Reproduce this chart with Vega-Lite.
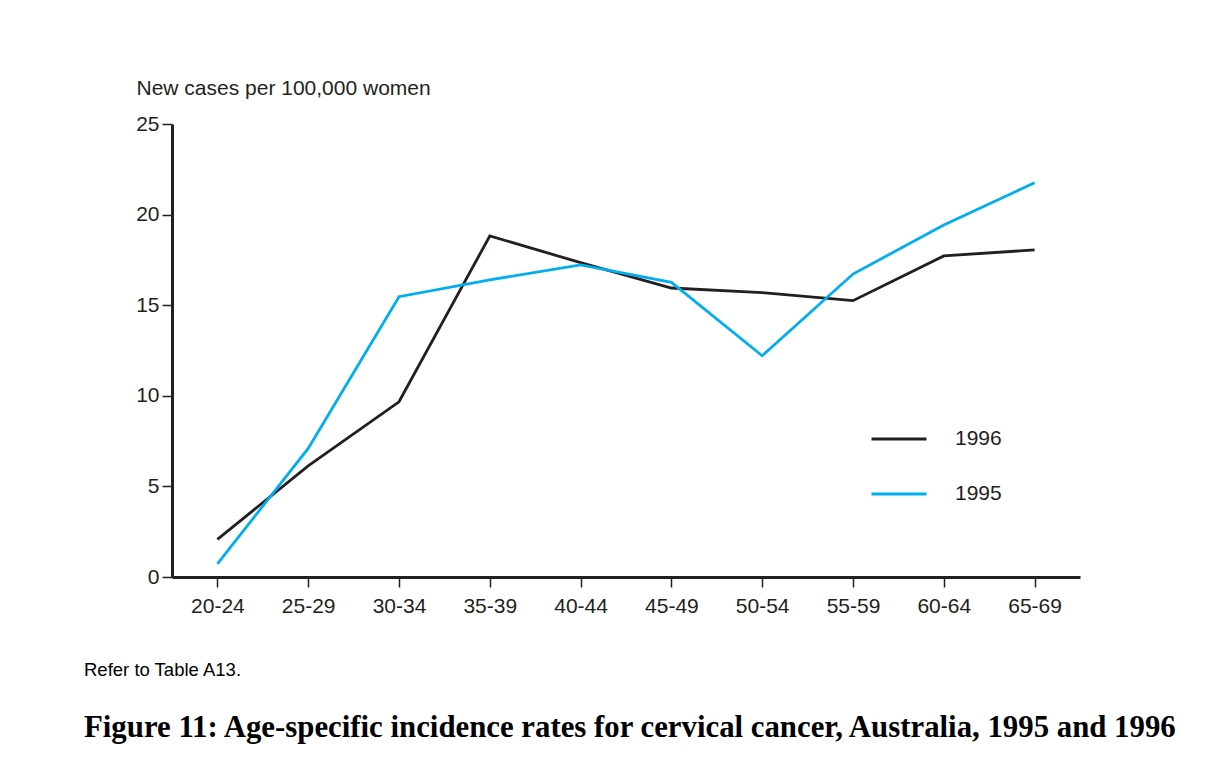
{
  "$schema": "https://vega.github.io/schema/vega-lite/v6.json",
  "width": 908,
  "height": 453,
  "autosize": {"type": "none"},
  "padding": {"left": 172, "top": 124, "right": 133, "bottom": 203},
  "background": "white",
  "title": {
    "text": "Refer to Table A13.",
    "subtitle": "Figure 11: Age-specific incidence rates for cervical cancer, Australia, 1995 and 1996",
    "orient": "bottom",
    "anchor": "start",
    "frame": "group",
    "dx": -88,
    "offset": 45,
    "font": "Liberation Sans",
    "fontSize": 18.5,
    "fontWeight": "normal",
    "color": "#000000",
    "subtitleFont": "Liberation Serif",
    "subtitleFontSize": 30.8,
    "subtitleFontWeight": "bold",
    "subtitleColor": "#000000",
    "subtitlePadding": 33
  },
  "data": {
    "values": [
      {"age": "20-24", "year": "1996", "rate": 2.08},
      {"age": "25-29", "year": "1996", "rate": 6.13},
      {"age": "30-34", "year": "1996", "rate": 9.67},
      {"age": "35-39", "year": "1996", "rate": 18.82},
      {"age": "40-44", "year": "1996", "rate": 17.35},
      {"age": "45-49", "year": "1996", "rate": 15.95},
      {"age": "50-54", "year": "1996", "rate": 15.69},
      {"age": "55-59", "year": "1996", "rate": 15.25},
      {"age": "60-64", "year": "1996", "rate": 17.72},
      {"age": "65-69", "year": "1996", "rate": 18.05},
      {"age": "20-24", "year": "1995", "rate": 0.72},
      {"age": "25-29", "year": "1995", "rate": 7.1},
      {"age": "30-34", "year": "1995", "rate": 15.47},
      {"age": "35-39", "year": "1995", "rate": 16.4},
      {"age": "40-44", "year": "1995", "rate": 17.22},
      {"age": "45-49", "year": "1995", "rate": 16.26},
      {"age": "50-54", "year": "1995", "rate": 12.21},
      {"age": "55-59", "year": "1995", "rate": 16.72},
      {"age": "60-64", "year": "1995", "rate": 19.43},
      {"age": "65-69", "year": "1995", "rate": 21.76}
    ]
  },
  "mark": {"type": "line", "strokeWidth": 2.8},
  "encoding": {
    "x": {
      "field": "age",
      "type": "ordinal",
      "scale": {"type": "point", "padding": 0.5},
      "axis": {
        "title": null,
        "labelAngle": 0,
        "tickSize": 10,
        "labelPadding": 8
      }
    },
    "y": {
      "field": "rate",
      "type": "quantitative",
      "scale": {"domain": [0, 25], "nice": false},
      "axis": {
        "values": [0, 5, 10, 15, 20, 25],
        "grid": false,
        "tickSize": 10,
        "labelPadding": 3,
        "title": "New cases per 100,000 women",
        "titleAngle": 0,
        "titleAlign": "left",
        "titleBaseline": "alphabetic",
        "titleX": -36,
        "titleY": -30
      }
    },
    "color": {
      "field": "year",
      "type": "nominal",
      "scale": {"domain": ["1996", "1995"], "range": ["#231f20", "#00aeef"]},
      "legend": {
        "title": null,
        "orient": "none",
        "legendX": 698,
        "legendY": 286,
        "padding": 0,
        "symbolType": "stroke",
        "symbolSize": 3025,
        "symbolStrokeWidth": 2.8,
        "labelOffset": 27,
        "rowPadding": 16,
        "labelFont": "Liberation Sans",
        "labelFontSize": 21,
        "labelColor": "#231f20"
      }
    }
  },
  "config": {
    "view": {"stroke": null},
    "axis": {
      "domainColor": "#231f20",
      "domainWidth": 3,
      "tickColor": "#231f20",
      "tickWidth": 1.5,
      "labelFont": "Liberation Sans",
      "labelFontSize": 21,
      "labelColor": "#231f20",
      "titleFont": "Liberation Sans",
      "titleFontSize": 21,
      "titleFontWeight": "normal",
      "titleColor": "#231f20"
    }
  }
}
